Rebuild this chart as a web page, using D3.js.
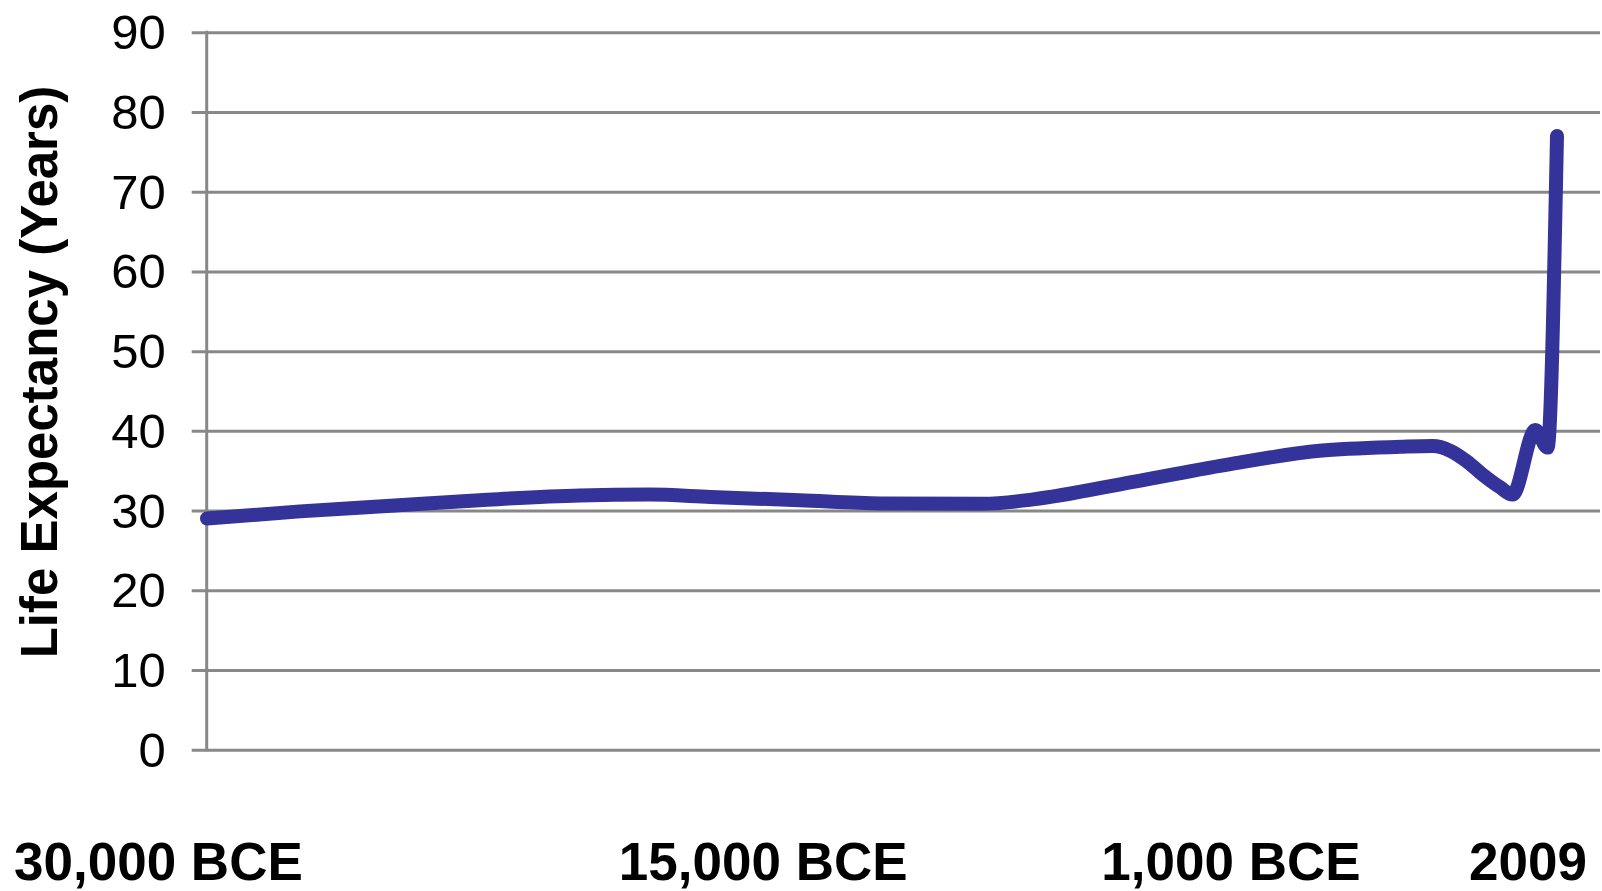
<!DOCTYPE html>
<html>
<head>
<meta charset="utf-8">
<title>Life Expectancy</title>
<script src="https://cdn.jsdelivr.net/npm/d3@7"></script>
<style>
  html, body { margin: 0; padding: 0; background: #ffffff; }
  svg { display: block; }
  text { font-family: "Liberation Sans", Arial, Helvetica, sans-serif; fill: #000; }
</style>
</head>
<body>
<svg id="chart" width="1602" height="891"></svg>
<script>
// Position along the timeline (0 = 30,000 BCE start of the series, 100 = 2009)
const timelinePos = [0, 6.9, 13.6, 20.2, 27.6, 32.8, 37.3, 43.9, 49.9, 57.5, 61.2,
                     68.6, 76.0, 82.4, 88.4, 90.8, 92.1, 93.3, 94.5, 95.8, 96.7,
                     98.4, 99.3, 100];
// Life expectancy in years at each timeline position
const lifeExpectancy = [29.0, 29.9, 30.6, 31.3, 31.9, 32.0, 31.7, 31.3, 30.9, 30.85, 31.4,
                        33.6, 35.9, 37.5, 38.0, 38.1, 37.5, 36.2, 34.5, 32.9, 32.0,
                        40.1, 37.9, 77.0];

// Era labels shown under the timeline and where they sit on it
const eraLabels = ["30,000 BCE", "15,000 BCE", "1,000 BCE", "2009"];
const eraLabelPos = [-3.6, 41.2, 75.85, 97.85];

// Y axis ticks
const yTicks = [0, 10, 20, 30, 40, 50, 60, 70, 80, 90];
const yLabel = "Life Expectancy (Years)";

const svg = d3.select("#chart");

const plot = { left: 206.7, right: 1600, top: 32.3, bottom: 749.7 };

const x = d3.scaleLinear().domain([0, 100]).range([207, 1557]);
const y = d3.scaleLinear().domain([0, 90]).range([plot.bottom, plot.top]);

// Gridlines + ticks + tick labels
const yAxis = d3.axisLeft(y)
  .tickValues(yTicks)
  .tickSizeOuter(0)
  .tickFormat(d3.format("d"));

const gAxis = svg.append("g")
  .attr("transform", `translate(${plot.left},0)`)
  .call(yAxis);

gAxis.select(".domain").remove();
gAxis.selectAll(".tick line")
  .attr("x1", -15)
  .attr("x2", plot.right - plot.left)
  .attr("stroke", "#888888")
  .attr("stroke-width", 3);
gAxis.selectAll(".tick text")
  .attr("x", -41)
  .attr("dy", null)
  .attr("y", 16.5)
  .attr("text-anchor", "end")
  .style("font-size", "49px")
  .style("font-family", "'Liberation Sans', Arial, sans-serif")
  .attr("fill", "#000");

// Vertical axis line
svg.append("line")
  .attr("x1", plot.left).attr("x2", plot.left)
  .attr("y1", y(90) - 1.5).attr("y2", y(0) + 1.5)
  .attr("stroke", "#888888")
  .attr("stroke-width", 3);

// Y axis title
svg.append("text")
  .attr("transform", `translate(56.7,${(82 + 662) / 2}) rotate(-90)`)
  .attr("text-anchor", "middle")
  .style("font-size", "51px")
  .style("font-weight", "bold")
  .text(yLabel);

// Series line
const line = d3.line()
  .x((d, i) => x(timelinePos[i]))
  .y(d => y(d))
  .curve(d3.curveMonotoneX);

svg.append("path")
  .datum(lifeExpectancy)
  .attr("d", line)
  .attr("fill", "none")
  .attr("stroke", "#333399")
  .attr("stroke-width", 14)
  .attr("stroke-linecap", "round")
  .attr("stroke-linejoin", "round");

// Era labels along the bottom
svg.append("g")
  .selectAll("text")
  .data(eraLabels)
  .join("text")
  .attr("x", (d, i) => x(eraLabelPos[i]))
  .attr("y", 880)
  .attr("text-anchor", "middle")
  .style("font-size", "53px")
  .style("font-weight", "bold")
  .text(d => d);
</script>
</body>
</html>
